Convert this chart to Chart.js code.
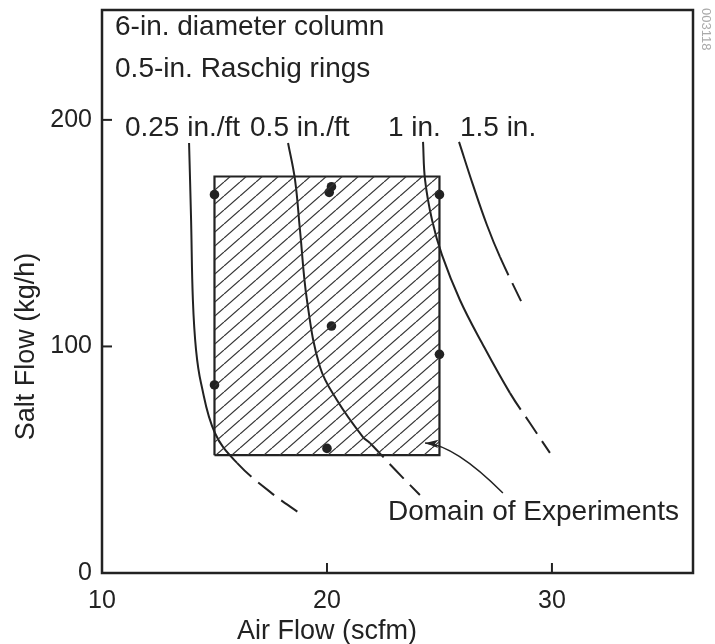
<!DOCTYPE html>
<html>
<head>
<meta charset="utf-8">
<script src="https://cdn.jsdelivr.net/npm/chart.js@4.4.1/dist/chart.umd.min.js"></script>
<style>
  html, body { margin: 0; padding: 0; background: #fff; }
  #chart { display: block; }
</style>
</head>
<body>
<canvas id="chart" width="715" height="644"></canvas>
<script>
// Axis ticks
const xTicks = [10, 20, 30];
const yTicks = [0, 100, 200];

// Domain of experiments (air flow range, salt flow range)
const domainAir = [15, 25];
const domainSalt = [52, 175];

// Experimental runs
const runAir  = [15, 15, 20.1, 20.2, 20.2, 20, 25, 25];
const runSalt = [167, 83, 168, 170.5, 109, 55, 167, 96.5];

// Flooding / pressure-drop curves, dashed from index dashFrom onward
const c025Air  = [13.87, 13.96, 14.04, 14.18, 14.4, 15.02, 16.0, 17.47, 18.89];
const c025Salt = [189.8, 155.8, 120.5, 98.5, 83.9, 61.8, 48.6, 35.8, 25.6];
const c05Air   = [18.27, 18.58, 18.8, 19.11, 19.69, 20.44, 21.6, 21.91, 23.0, 24.13];
const c05Salt  = [189.8, 173.5, 151.4, 120.5, 90.9, 76.4, 60.0, 57.4, 45.9, 34.4];
const c1Air    = [24.27, 24.36, 24.67, 25.11, 25.91, 26.89, 28.13, 29.02, 29.91];
const c1Salt   = [190.3, 173.5, 155.8, 140.4, 120.5, 101.5, 79.5, 66.2, 53.0];
const c15Air   = [25.87, 26.49, 27.11, 27.69, 28.71];
const c15Salt  = [190.3, 171.3, 153.6, 139.5, 118.3];
const dashFrom = [6, 7, 6, 3];

// Text annotations (left edge, vertical centre, in data units)
const noteText = ['6-in. diameter column', '0.5-in. Raschig rings', '0.25 in./ft', '0.5 in./ft', '1 in.', '1.5 in.', 'Domain of Experiments'];
const noteAir  = [10.58, 10.58, 11.02, 16.58, 22.71, 25.91, 22.71];
const noteSalt = [241, 222.5, 196.5, 196.5, 196.5, 196.5, 27];

// Arrow from label to domain
const arrowTip  = [24.36, 57.4];
const arrowTail = [27.82, 35.3];

const INK = '#222';
const FONT = '"Liberation Sans", Arial, Helvetica, sans-serif';

function pts(xs, ys) {
    return xs.map((x, i) => ({ x: x, y: ys[i] }));
}

function makeHatch() {
    const c = document.createElement('canvas');
    c.width = 16;
    c.height = 14;
    const g = c.getContext('2d');
    g.strokeStyle = '#333';
    g.lineWidth = 1.2;
    for (const dx of [-16, 0, 16]) {
        g.beginPath();
        g.moveTo(dx, 14);
        g.lineTo(dx + 16, 0);
        g.stroke();
    }
    return document.getElementById('chart').getContext('2d').createPattern(c, 'repeat');
}

function curve(xs, ys, from) {
    return {
        data: pts(xs, ys),
        showLine: true,
        borderColor: INK,
        borderWidth: 2,
        pointRadius: 0,
        tension: 0.4,
        fill: false,
        segment: {
            borderDash: ctx => ctx.p0DataIndex >= from ? [20, 9] : undefined
        }
    };
}

const curves = [
    curve(c025Air, c025Salt, dashFrom[0]),
    curve(c05Air, c05Salt, dashFrom[1]),
    curve(c1Air, c1Salt, dashFrom[2]),
    curve(c15Air, c15Salt, dashFrom[3])
];

// Frame, inward ticks, notes, arrow and axis titles
const decorations = {
    id: 'decorations',
    afterDraw(chart) {
        const ctx = chart.ctx;
        const xs = chart.scales.x;
        const ys = chart.scales.y;
        const a = chart.chartArea;
        ctx.save();
        ctx.strokeStyle = INK;
        ctx.fillStyle = INK;
        ctx.lineWidth = 2.5;
        ctx.strokeRect(a.left, a.top, a.right - a.left, a.bottom - a.top);

        ctx.lineWidth = 2;
        yTicks.slice(1).forEach(v => {
            const py = ys.getPixelForValue(v);
            ctx.beginPath();
            ctx.moveTo(a.left, py);
            ctx.lineTo(a.left + 10, py);
            ctx.stroke();
        });
        xTicks.slice(1).forEach(v => {
            const px = xs.getPixelForValue(v);
            ctx.beginPath();
            ctx.moveTo(px, a.bottom);
            ctx.lineTo(px, a.bottom - 10);
            ctx.stroke();
        });

        ctx.font = '28px ' + FONT;
        ctx.textAlign = 'left';
        ctx.textBaseline = 'middle';
        noteText.forEach((t, i) => {
            ctx.fillText(t, xs.getPixelForValue(noteAir[i]), ys.getPixelForValue(noteSalt[i]));
        });

        // arrow
        const tx = xs.getPixelForValue(arrowTip[0]), ty = ys.getPixelForValue(arrowTip[1]);
        const ex = xs.getPixelForValue(arrowTail[0]), ey = ys.getPixelForValue(arrowTail[1]);
        ctx.lineWidth = 1.5;
        ctx.beginPath();
        ctx.moveTo(tx, ty);
        ctx.quadraticCurveTo(tx + 30, ty + 2, ex, ey);
        ctx.stroke();
        const ang = Math.atan2(2, 30);
        ctx.beginPath();
        ctx.moveTo(tx, ty);
        ctx.lineTo(tx + 14 * Math.cos(ang - 0.3), ty + 14 * Math.sin(ang - 0.3));
        ctx.lineTo(tx + 10 * Math.cos(ang), ty + 10 * Math.sin(ang));
        ctx.lineTo(tx + 14 * Math.cos(ang + 0.3), ty + 14 * Math.sin(ang + 0.3));
        ctx.closePath();
        ctx.fill();

        // axis titles
        ctx.font = '27px ' + FONT;
        ctx.textAlign = 'center';
        ctx.fillText('Air Flow (scfm)', xs.getPixelForValue(20), a.bottom + 59);
        ctx.save();
        ctx.translate(27, ys.getPixelForValue(100));
        ctx.rotate(-Math.PI / 2);
        ctx.fillText('Salt Flow (kg/h)', 0, 0);
        ctx.restore();

        // figure id
        ctx.save();
        ctx.fillStyle = '#aaa';
        ctx.font = '13px ' + FONT;
        ctx.textAlign = 'left';
        ctx.translate(706, 8);
        ctx.rotate(Math.PI / 2);
        ctx.fillText('003118', 0, 0);
        ctx.restore();

        ctx.restore();
    }
};

new Chart(document.getElementById('chart'), {
    type: 'scatter',
    data: {
        datasets: [
            {
                data: pts(domainAir, [domainSalt[1], domainSalt[1]]),
                showLine: true,
                borderWidth: 0,
                pointRadius: 0,
                fill: { value: domainSalt[0] },
                backgroundColor: makeHatch()
            },
            {
                data: pts([domainAir[0], domainAir[0], domainAir[1], domainAir[1], domainAir[0]],
                          [domainSalt[0], domainSalt[1], domainSalt[1], domainSalt[0], domainSalt[0]]),
                showLine: true,
                borderColor: INK,
                borderWidth: 2.2,
                pointRadius: 0,
                fill: false
            },
            ...curves,
            {
                data: pts(runAir, runSalt),
                pointRadius: 4.8,
                pointBackgroundColor: INK,
                pointBorderWidth: 0
            }
        ]
    },
    options: {
        responsive: false,
        animation: false,
        layout: { padding: { left: 0, right: 22, top: 10, bottom: 0 } },
        plugins: {
            legend: { display: false },
            tooltip: { enabled: false }
        },
        scales: {
            x: {
                type: 'linear',
                min: 10,
                max: 36.27,
                grid: { display: false, drawTicks: false },
                border: { display: false },
                afterBuildTicks: s => { s.ticks = xTicks.map(v => ({ value: v })); },
                afterFit: s => { s.height = 71; s.paddingLeft = 0; s.paddingRight = 0; },
                ticks: { color: INK, font: { family: FONT, size: 25 }, padding: 13, maxRotation: 0 }
            },
            y: {
                type: 'linear',
                min: 0,
                max: 248.5,
                grid: { display: false, drawTicks: false },
                border: { display: false },
                afterBuildTicks: s => { s.ticks = yTicks.map(v => ({ value: v })); },
                afterFit: s => { s.width = 102; s.paddingTop = 0; s.paddingBottom = 0; },
                ticks: { color: INK, font: { family: FONT, size: 25 }, padding: 10 }
            }
        }
    },
    plugins: [decorations]
});
</script>
</body>
</html>
